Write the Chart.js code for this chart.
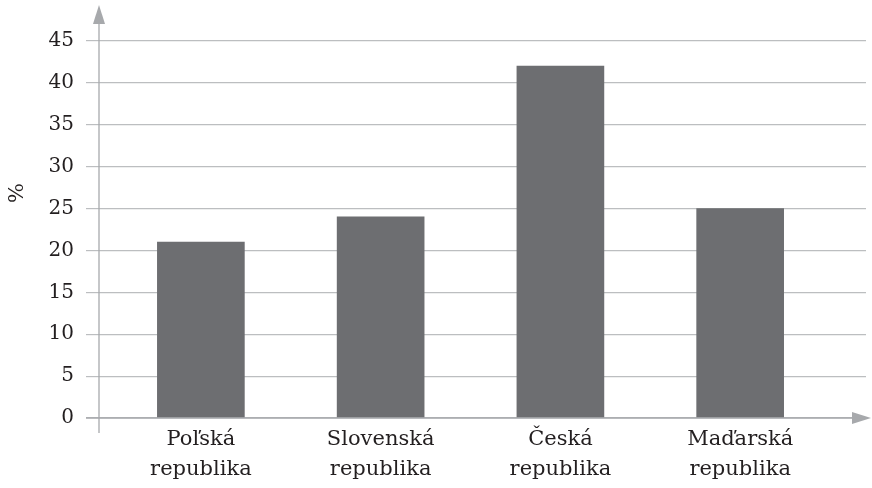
<!DOCTYPE html>
<html>
<head>
<meta charset="utf-8">
<script src="https://cdn.jsdelivr.net/npm/chart.js@4.4.1/dist/chart.umd.min.js"></script>
<style>
  html, body { margin: 0; padding: 0; background: #fff; }
  #wrap { width: 872px; height: 488px; }
</style>
</head>
<body>
<div id="wrap"><canvas id="c" width="872" height="488"></canvas></div>
<script>
// --- data ---
const categories = [['Poľská', 'republika'], ['Slovenská', 'republika'], ['Česká', 'republika'], ['Maďarská', 'republika']];
const values = [21, 24, 42, 25];
const yTicks = [0, 5, 10, 15, 20, 25, 30, 35, 40, 45];
const yTitle = '%';

const FONT = 'DejaVu Serif';
const TEXT = '#231f20';
const AXIS = '#a7a9ac';

// axes with arrow heads + rotated % label
const axesPlugin = {
  id: 'axes',
  afterDraw(chart) {
    const { ctx, chartArea: a } = chart;
    const x0 = a.left, y0 = a.bottom;
    ctx.save();
    ctx.strokeStyle = AXIS;
    ctx.fillStyle = AXIS;
    ctx.lineWidth = 1.3;
    // vertical axis
    ctx.beginPath();
    ctx.moveTo(x0, y0 + 15);
    ctx.lineTo(x0, 14);
    ctx.stroke();
    ctx.beginPath();
    ctx.moveTo(x0, 5);
    ctx.lineTo(x0 - 6, 24);
    ctx.lineTo(x0 + 6, 24);
    ctx.closePath();
    ctx.fill();
    // horizontal axis
    ctx.beginPath();
    ctx.moveTo(x0 - 13, y0);
    ctx.lineTo(a.right - 4, y0);
    ctx.stroke();
    ctx.beginPath();
    ctx.moveTo(a.right + 5, y0);
    ctx.lineTo(a.right - 14, y0 - 6);
    ctx.lineTo(a.right - 14, y0 + 6);
    ctx.closePath();
    ctx.fill();
    // y title
    ctx.fillStyle = TEXT;
    ctx.font = '21px "' + FONT + '"';
    ctx.textAlign = 'center';
    ctx.textBaseline = 'middle';
    ctx.translate(18, 193);
    ctx.rotate(-Math.PI / 2);
    ctx.fillText(yTitle, 0, 0);
    ctx.restore();
  }
};

new Chart(document.getElementById('c'), {
  type: 'bar',
  data: {
    datasets: [{
      data: values.map((v, i) => ({ x: i, y: v })),
      backgroundColor: '#6d6e71',
      barThickness: 87,
      borderWidth: 0
    }]
  },
  options: {
    responsive: false,
    animation: false,
    devicePixelRatio: 1,
    layout: { padding: { top: 41, right: 6, left: 0, bottom: 0 } },
    plugins: { legend: { display: false }, tooltip: { enabled: false } },
    scales: {
      x: {
        type: 'linear',
        offset: false,
        bounds: 'data',
        min: -0.5667,
        max: 3.7,
        grid: { display: false, drawTicks: false },
        border: { display: false },
        afterBuildTicks: s => { s.ticks = categories.map((c, i) => ({ value: i })); },
        afterFit: s => { s.height = 70; },
        ticks: {
          padding: 7,
          color: TEXT,
          font: { family: FONT, size: 21, lineHeight: 1.42 },
          maxRotation: 0,
          autoSkip: false,
          callback: v => categories[v]
        }
      },
      y: {
        min: 0,
        max: 45,
        afterBuildTicks: s => { s.ticks = yTicks.map(v => ({ value: v })); },
        afterFit: s => { s.width = 99; },
        grid: { color: '#bcbec0', lineWidth: 1.2, tickLength: 13 },
        border: { display: false },
        ticks: {
          padding: 12,
          color: TEXT,
          font: { family: FONT, size: 20 }
        }
      }
    }
  },
  plugins: [axesPlugin]
});
</script>
</body>
</html>
